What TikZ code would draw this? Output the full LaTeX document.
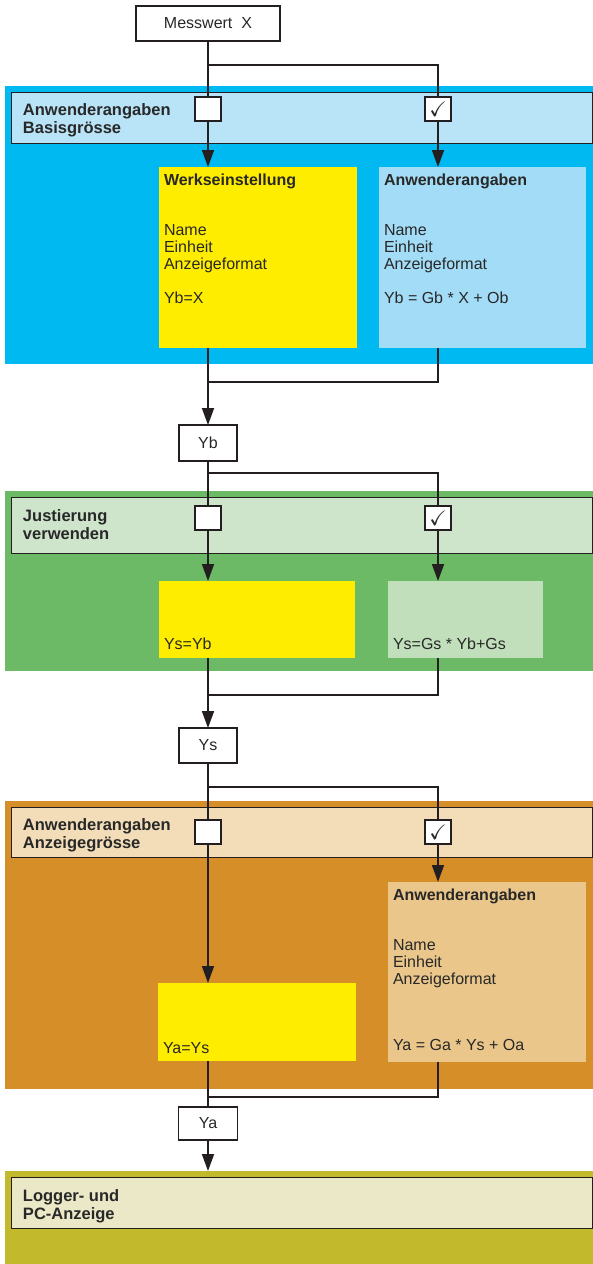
\documentclass[tikz,border=0pt]{standalone}
\usepackage{amssymb}
\usepackage{fontspec}
\setmainfont{Liberation Sans}
\usetikzlibrary{arrows.meta}
\definecolor{blueband}{RGB}{0,185,240}
\definecolor{bluehdr}{RGB}{185,227,247}
\definecolor{bluebox}{RGB}{163,220,246}
\definecolor{yel}{RGB}{255,237,0}
\definecolor{greenband}{RGB}{108,185,102}
\definecolor{greenhdr}{RGB}{206,229,204}
\definecolor{greenbox}{RGB}{194,223,188}
\definecolor{orangeband}{RGB}{214,142,40}
\definecolor{orangehdr}{RGB}{242,221,184}
\definecolor{orangebox}{RGB}{234,198,138}
\definecolor{oliveband}{RGB}{194,185,45}
\definecolor{olivehdr}{RGB}{234,232,198}
\definecolor{linec}{RGB}{35,31,32}
\definecolor{textc}{RGB}{40,40,40}
\tikzset{
  band/.style={draw=none, inner sep=0pt, outer sep=0pt, anchor=north west},
  hdr/.style={draw=linec, line width=1pt, inner sep=0pt, outer sep=0pt, anchor=north west},
  fbox/.style={draw=none, inner sep=0pt, outer sep=0pt, anchor=north west},
  cbox/.style={draw=linec, fill=white, line width=1.6pt, minimum width=26pt, minimum height=24pt, inner sep=0pt, outer sep=0pt, text=textc, font=\fontsize{21}{21}\selectfont},
  vbox/.style={draw=linec, fill=white, line width=1.2pt, inner sep=0pt, outer sep=0pt, text=textc, font=\fontsize{16}{17}\selectfont},
  ln/.style={draw=linec, line width=1.8pt},
  arr/.style={ln, -{Triangle[length=17pt,width=12pt]}},
  txt/.style={anchor=north west, inner sep=0pt, outer sep=0pt, align=left, text=textc, font=\fontsize{16}{17}\selectfont},
  btxt/.style={txt, font=\fontsize{16.5}{17}\selectfont\bfseries},
}
\begin{document}
\begin{tikzpicture}[x=1pt,y=-1pt]
\useasboundingbox (0,0) rectangle (593,1264);
% ---------- bands ----------
\node[band, fill=blueband, minimum width=588pt, minimum height=278pt] (band1) at (5,86) {};
\node[hdr, fill=bluehdr, minimum width=581pt, minimum height=51pt] (hdr1) at (11,92) {};
\node[band, fill=greenband, minimum width=588pt, minimum height=180pt] (band2) at (5,491) {};
\node[hdr, fill=greenhdr, minimum width=581pt, minimum height=56pt] (hdr2) at (11,497) {};
\node[band, fill=orangeband, minimum width=588pt, minimum height=288pt] (band3) at (5,801) {};
\node[hdr, fill=orangehdr, minimum width=581pt, minimum height=50pt] (hdr3) at (11,807) {};
\node[band, fill=oliveband, minimum width=588pt, minimum height=93pt] (band4) at (5,1171) {};
\node[hdr, fill=olivehdr, minimum width=581pt, minimum height=51pt] (hdr4) at (11,1177) {};
% header texts
\node[btxt] (h1t) at (23,103.1) {\strut Anwenderangaben\\Basisgrösse};
\node[btxt] (h2t) at (23,509.1) {\strut Justierung\\verwenden};
\node[btxt] (h3t) at (23,818.1) {\strut Anwenderangaben\\Anzeigegrösse};
\node[btxt] (h4t) at (23,1189.1) {\strut Logger- und\\PC-Anzeige};
% ---------- content boxes ----------
\node[fbox, fill=yel, minimum width=198pt, minimum height=181pt] (werk) at (159,167) {};
\node[fbox, fill=bluebox, minimum width=207pt, minimum height=181pt] (anw1) at (379,167) {};
\node[txt] (werkt) at (164,173.1) {\strut\textbf{Werkseinstellung}\\[33pt]Name\\Einheit\\Anzeigeformat\\[17pt]Yb=X};
\node[txt] (anw1t) at (384,173.1) {\strut\textbf{Anwenderangaben}\\[33pt]Name\\Einheit\\Anzeigeformat\\[17pt]Yb = Gb * X + Ob};
\node[fbox, fill=yel, minimum width=196pt, minimum height=77pt] (yel2) at (159,581) {};
\node[fbox, fill=greenbox, minimum width=155pt, minimum height=77pt] (gbox) at (388,581) {};
\node[txt] (yel2t) at (164,637.1) {\strut Ys=Yb};
\node[txt] (gboxt) at (393,637.1) {\strut Ys=Gs * Yb+Gs};
\node[fbox, fill=orangebox, minimum width=198pt, minimum height=180pt] (obox) at (388,882) {};
\node[fbox, fill=yel, minimum width=198pt, minimum height=78pt] (yel3) at (158,983) {};
\node[txt] (oboxt) at (393,888.1) {\strut\textbf{Anwenderangaben}\\[33pt]Name\\Einheit\\Anzeigeformat\\[49pt]Ya = Ga * Ys + Oa};
\node[txt] (yel3t) at (163,1041.1) {\strut Ya=Ys};
% ---------- value boxes ----------
\node[vbox, minimum width=144pt, minimum height=35pt] (mess) at (208,23.5) {Messwert~~X};
\node[vbox, minimum width=58pt, minimum height=36pt] (yb) at (208,443) {Yb};
\node[vbox, minimum width=58pt, minimum height=35pt] (ys) at (208,745.5) {Ys};
\node[vbox, minimum width=59pt, minimum height=33pt] (ya) at (208,1123.5) {Ya};
% ---------- checkbox positions ----------
\coordinate (c1) at (208,109);
\coordinate (c2) at (438,109);
\coordinate (c3) at (208,518);
\coordinate (c4) at (438,518);
\coordinate (c5) at (208,832);
\coordinate (c6) at (438,832);
% ---------- connectors ----------
% section 1
\coordinate (b1l) at (208,65);
\coordinate (b1r) at (438,65);
\draw[ln] (mess.south) -- (c1);
\draw[ln] (b1l) -- (b1r) -- (c2);
\draw[arr] (c1) -- (c1 |- werk.north);
\draw[arr] (c2) -- (c2 |- anw1.north);
\coordinate (m1r) at (438,382);
\coordinate (m1l) at (208,382);
\draw[ln] (c2 |- anw1.south) -- (m1r) -- (m1l);
\draw[arr] (c1 |- werk.south) -- (yb.north);
% section 2
\coordinate (b2l) at (208,473);
\coordinate (b2r) at (438,473);
\draw[ln] (yb.south) -- (c3);
\draw[ln] (b2l) -- (b2r) -- (c4);
\draw[arr] (c3) -- (c3 |- yel2.north);
\draw[arr] (c4) -- (c4 |- gbox.north);
\coordinate (m2r) at (438,695);
\coordinate (m2l) at (208,695);
\draw[ln] (c4 |- gbox.south) -- (m2r) -- (m2l);
\draw[arr] (c3 |- yel2.south) -- (ys.north);
% section 3
\coordinate (b3l) at (208,787);
\coordinate (b3r) at (438,787);
\draw[ln] (ys.south) -- (c5);
\draw[ln] (b3l) -- (b3r) -- (c6);
\draw[arr] (c5) -- (c5 |- yel3.north);
\draw[arr] (c6) -- (c6 |- obox.north);
\coordinate (m3r) at (438,1097);
\coordinate (m3l) at (208,1097);
\draw[ln] (c6 |- obox.south) -- (m3r) -- (m3l);
\draw[ln] (c5 |- yel3.south) -- (ya.north);
% section 4
\draw[arr] (ya.south) -- (ya.south |- band4.north);
% ---------- checkboxes ----------
\node[cbox] (cb1) at (c1) {};
\node[cbox] (cb2) at (c2) {$\checkmark$};
\node[cbox] (cb3) at (c3) {};
\node[cbox] (cb4) at (c4) {$\checkmark$};
\node[cbox] (cb5) at (c5) {};
\node[cbox] (cb6) at (c6) {$\checkmark$};
\end{tikzpicture}
\end{document}
